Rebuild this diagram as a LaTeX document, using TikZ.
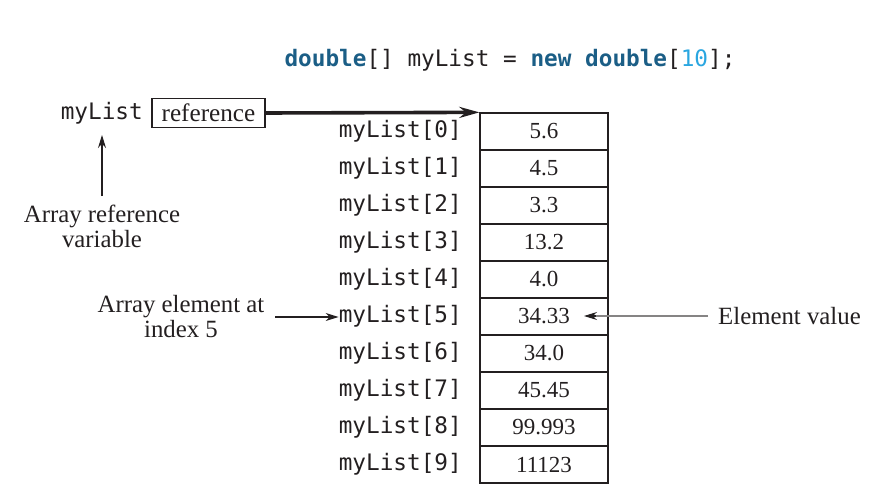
\documentclass[tikz,border=0pt]{standalone}
\usepackage{fontspec}
\setmainfont{Liberation Serif}
\setmonofont{DejaVu Sans Mono}
\usetikzlibrary{arrows.meta}
\definecolor{kw}{HTML}{1B5E86}
\definecolor{num}{HTML}{2AA6E0}
\definecolor{ink}{HTML}{231F20}
\tikzset{
  cell/.style={draw=ink, line width=1.3pt, minimum width=128pt, minimum height=37pt, inner sep=0pt, font=\fontsize{23}{25}\selectfont, text=ink},
  lbl/.style={anchor=east, inner sep=0pt, font=\ttfamily\fontsize{22.7}{25}\selectfont, text=ink},
  note/.style={align=center, inner sep=0pt, font=\fontsize{24.8}{25}\selectfont, text=ink},
  arr/.style={-{Stealth[length=13pt,width=8pt]}, line width=1.1pt, draw=ink},
}
\begin{document}
\begin{tikzpicture}[x=1pt,y=-1pt]
\useasboundingbox (0,0) rectangle (889,503);
\node[inner sep=0pt, font=\ttfamily\fontsize{22.7}{25}\selectfont, text=ink] (head) at (510,60)
  {\textcolor{kw}{\textbf{double}}[] myList = \textcolor{kw}{\textbf{new}} \textcolor{kw}{\textbf{double}}[\textcolor{num}{10}];};
\foreach \v [count=\i from 0] in {5.6,4.5,3.3,13.2,4.0,34.33,34.0,45.45,99.993,11123} {
  \node[cell] (c\i) at (544,{131.5+37*\i}) {\v};
  \node[lbl] (l\i) at (462,{131.5+37*\i}) {myList[\i]};
}
\node[lbl] (top) at (143,113) {myList};
\node[draw=ink, line width=1.3pt, minimum width=113pt, minimum height=29pt, inner sep=0pt, font=\fontsize{25.2}{25}\selectfont, text=ink] (ref) at (208.5,113) {reference};
\node[note] (arv) at (102,226) {Array reference\\variable};
\node[note] (aei) at (181,317) {Array element at\\index 5};
\node[note, anchor=west] (ev) at (718,316) {Element value};
\coordinate (a1) at (102,196);
\coordinate (a2) at (275,317);
\coordinate (a3) at (708,316);
\coordinate (t1) at (102,135);
\coordinate (t3) at (584,316);
\draw[-{Stealth[length=20pt,width=11pt]}, line width=3.6pt, draw=ink] (ref.east) -- (c0.north west);
\draw[arr] (a1) -- (t1);
\draw[arr] (a2) -- (a2 -| l5.west);
\draw[line width=1.1pt, draw=ink!55] (a3) -- ([xshift=10pt]t3);
\draw[-{Stealth[length=13pt,width=8pt]}, line width=1.1pt, draw=ink] ([xshift=12pt]t3) -- (t3);
\end{tikzpicture}
\end{document}
